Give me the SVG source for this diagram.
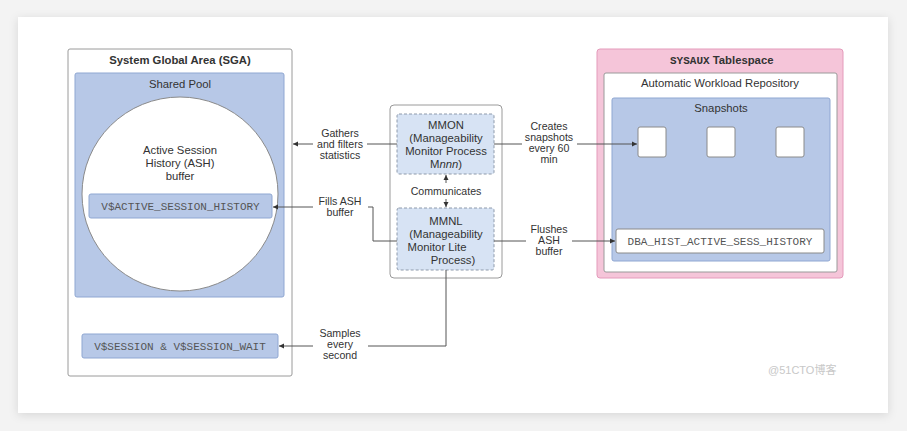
<svg xmlns="http://www.w3.org/2000/svg" width="907" height="431" viewBox="0 0 907 431">
<defs>
<filter id="sh" x="-5%" y="-10%" width="110%" height="120%">
<feDropShadow dx="0" dy="2" stdDeviation="5" flood-color="#000" flood-opacity="0.12"/>
</filter>
<marker id="ah" markerUnits="userSpaceOnUse" markerWidth="8" markerHeight="8" refX="5" refY="4" orient="auto">
<path d="M0,1.5 L5,4 L0,6.5 Z" fill="#333"/>
</marker>
<style>
.t{font-family:"Liberation Sans",Arial,sans-serif;font-size:11.3px;fill:#333;text-anchor:middle}
.l{font-family:"Liberation Sans",Arial,sans-serif;font-size:10.6px;fill:#333;text-anchor:middle}
.b{font-weight:bold}
.m{font-family:"Liberation Mono","Courier New",monospace;font-size:11px;fill:#555;text-anchor:middle}
.blue{fill:#b7c8e7;stroke:#8fa7d2;stroke-width:1}
.proc{fill:#d7e3f4;stroke:#8e9aab;stroke-width:1;stroke-dasharray:3,2}
.ln{fill:none;stroke:#555;stroke-width:1}
.box{fill:#fff;stroke:#9a9a9a;stroke-width:1}
</style>
</defs>
<rect width="907" height="431" fill="#f3f3f3"/>
<rect x="18" y="17" width="870" height="396" fill="#fff" filter="url(#sh)"/>

<g id="sga">
<rect class="box" x="68" y="49" width="224" height="327" rx="2"/>
<text class="t b" x="180" y="64">System Global Area (SGA)</text>
</g>
<g id="shared-pool">
<rect class="blue" x="75" y="73" width="209" height="224" rx="2"/>
<text class="t" x="180" y="88">Shared Pool</text>
</g>
<g id="ash-buffer">
<ellipse cx="180" cy="194" rx="98" ry="97" fill="#fff" stroke="#8a8a8a" stroke-width="1"/>
<text class="t" x="180" y="154">Active Session</text>
<text class="t" x="180" y="167">History (ASH)</text>
<text class="t" x="180" y="180">buffer</text>
</g>
<g id="v-ash">
<rect class="blue" x="89" y="194" width="183" height="24" rx="2"/>
<text class="m" x="180.5" y="210">V$ACTIVE_SESSION_HISTORY</text>
</g>
<g id="v-session">
<rect class="blue" x="82" y="334" width="196" height="24" rx="2"/>
<text class="m" x="180" y="350">V$SESSION &amp; V$SESSION_WAIT</text>
</g>

<g id="processes">
<rect class="box" x="390" y="105" width="112" height="173" rx="4"/>
</g>
<g id="mmon">
<rect class="proc" x="397" y="114" width="97" height="60" rx="2"/>
<text class="t" x="446" y="129">MMON</text>
<text class="t" x="446" y="142">(Manageability</text>
<text class="t" x="446" y="155">Monitor Process</text>
<text class="t" x="446" y="168">M<tspan font-style="italic">nnn</tspan>)</text>
</g>
<g id="mmnl">
<rect class="proc" x="397" y="208" width="97" height="62" rx="2"/>
<text class="t" x="446" y="225">MMNL</text>
<text class="t" x="446" y="238">(Manageability</text>
<text class="t" x="437" y="251">Monitor Lite</text>
<text class="t" x="453" y="264">Process)</text>
</g>

<g id="sysaux">
<rect x="597" y="49" width="246" height="229" rx="3" fill="#f5c5d9" stroke="#e49bbb" stroke-width="1"/>
<text x="670" y="64" font-weight="bold" fill="#333" font-size="11.3px" font-family="Liberation Sans,Arial,sans-serif"><tspan font-family="Liberation Mono,Courier New,monospace" font-size="11px">SYSAUX</tspan> Tablespace</text>
</g>
<g id="awr">
<rect class="box" x="604" y="73" width="233" height="199" rx="2"/>
<text class="t" x="720" y="87">Automatic Workload Repository</text>
</g>
<g id="snapshots">
<rect class="blue" x="612" y="98" width="218" height="163" rx="2"/>
<text class="t" x="721" y="112">Snapshots</text>
<rect x="638" y="127" width="28" height="30" rx="2" fill="#fff" stroke="#8a8a8a"/>
<rect x="707" y="127" width="28" height="30" rx="2" fill="#fff" stroke="#8a8a8a"/>
<rect x="776" y="127" width="28" height="30" rx="2" fill="#fff" stroke="#8a8a8a"/>
</g>
<g id="dba-hist">
<rect x="616" y="229" width="208" height="24" rx="2" fill="#fff" stroke="#8a8a8a"/>
<text class="m" x="720" y="245">DBA_HIST_ACTIVE_SESS_HISTORY</text>
</g>

<g id="connectors">
<path class="ln" d="M397,144 H367"/>
<path class="ln" d="M313,144 H293" marker-end="url(#ah)"/>
<text class="l" x="340" y="137">Gathers</text>
<text class="l" x="340" y="148">and filters</text>
<text class="l" x="340" y="159">statistics</text>

<path class="ln" d="M446,183 V175" marker-end="url(#ah)"/>
<path class="ln" d="M446,199 V207" marker-end="url(#ah)"/>
<text class="l" x="446" y="195">Communicates</text>

<path class="ln" d="M397,241 H373 V207 H368"/>
<path class="ln" d="M313,207 H273" marker-end="url(#ah)"/>
<text class="l" x="340" y="205">Fills ASH</text>
<text class="l" x="340" y="216">buffer</text>

<path class="ln" d="M494,144 H522"/>
<path class="ln" d="M577,144 H637" marker-end="url(#ah)"/>
<text class="l" x="549" y="130">Creates</text>
<text class="l" x="549" y="141">snapshots</text>
<text class="l" x="549" y="152">every 60</text>
<text class="l" x="549" y="163">min</text>

<path class="ln" d="M494,241 H526"/>
<path class="ln" d="M572,241 H615" marker-end="url(#ah)"/>
<text class="l" x="549" y="233">Flushes</text>
<text class="l" x="549" y="244">ASH</text>
<text class="l" x="549" y="255">buffer</text>

<path class="ln" d="M446,270 V346 H368"/>
<path class="ln" d="M313,346 H279" marker-end="url(#ah)"/>
<text class="l" x="340" y="337">Samples</text>
<text class="l" x="340" y="348">every</text>
<text class="l" x="340" y="359">second</text>
</g>

<text x="768" y="374" font-family="Liberation Sans,Noto Sans CJK SC,sans-serif" font-size="11px" fill="#c8c8c8">@51CTO博客</text>
</svg>
